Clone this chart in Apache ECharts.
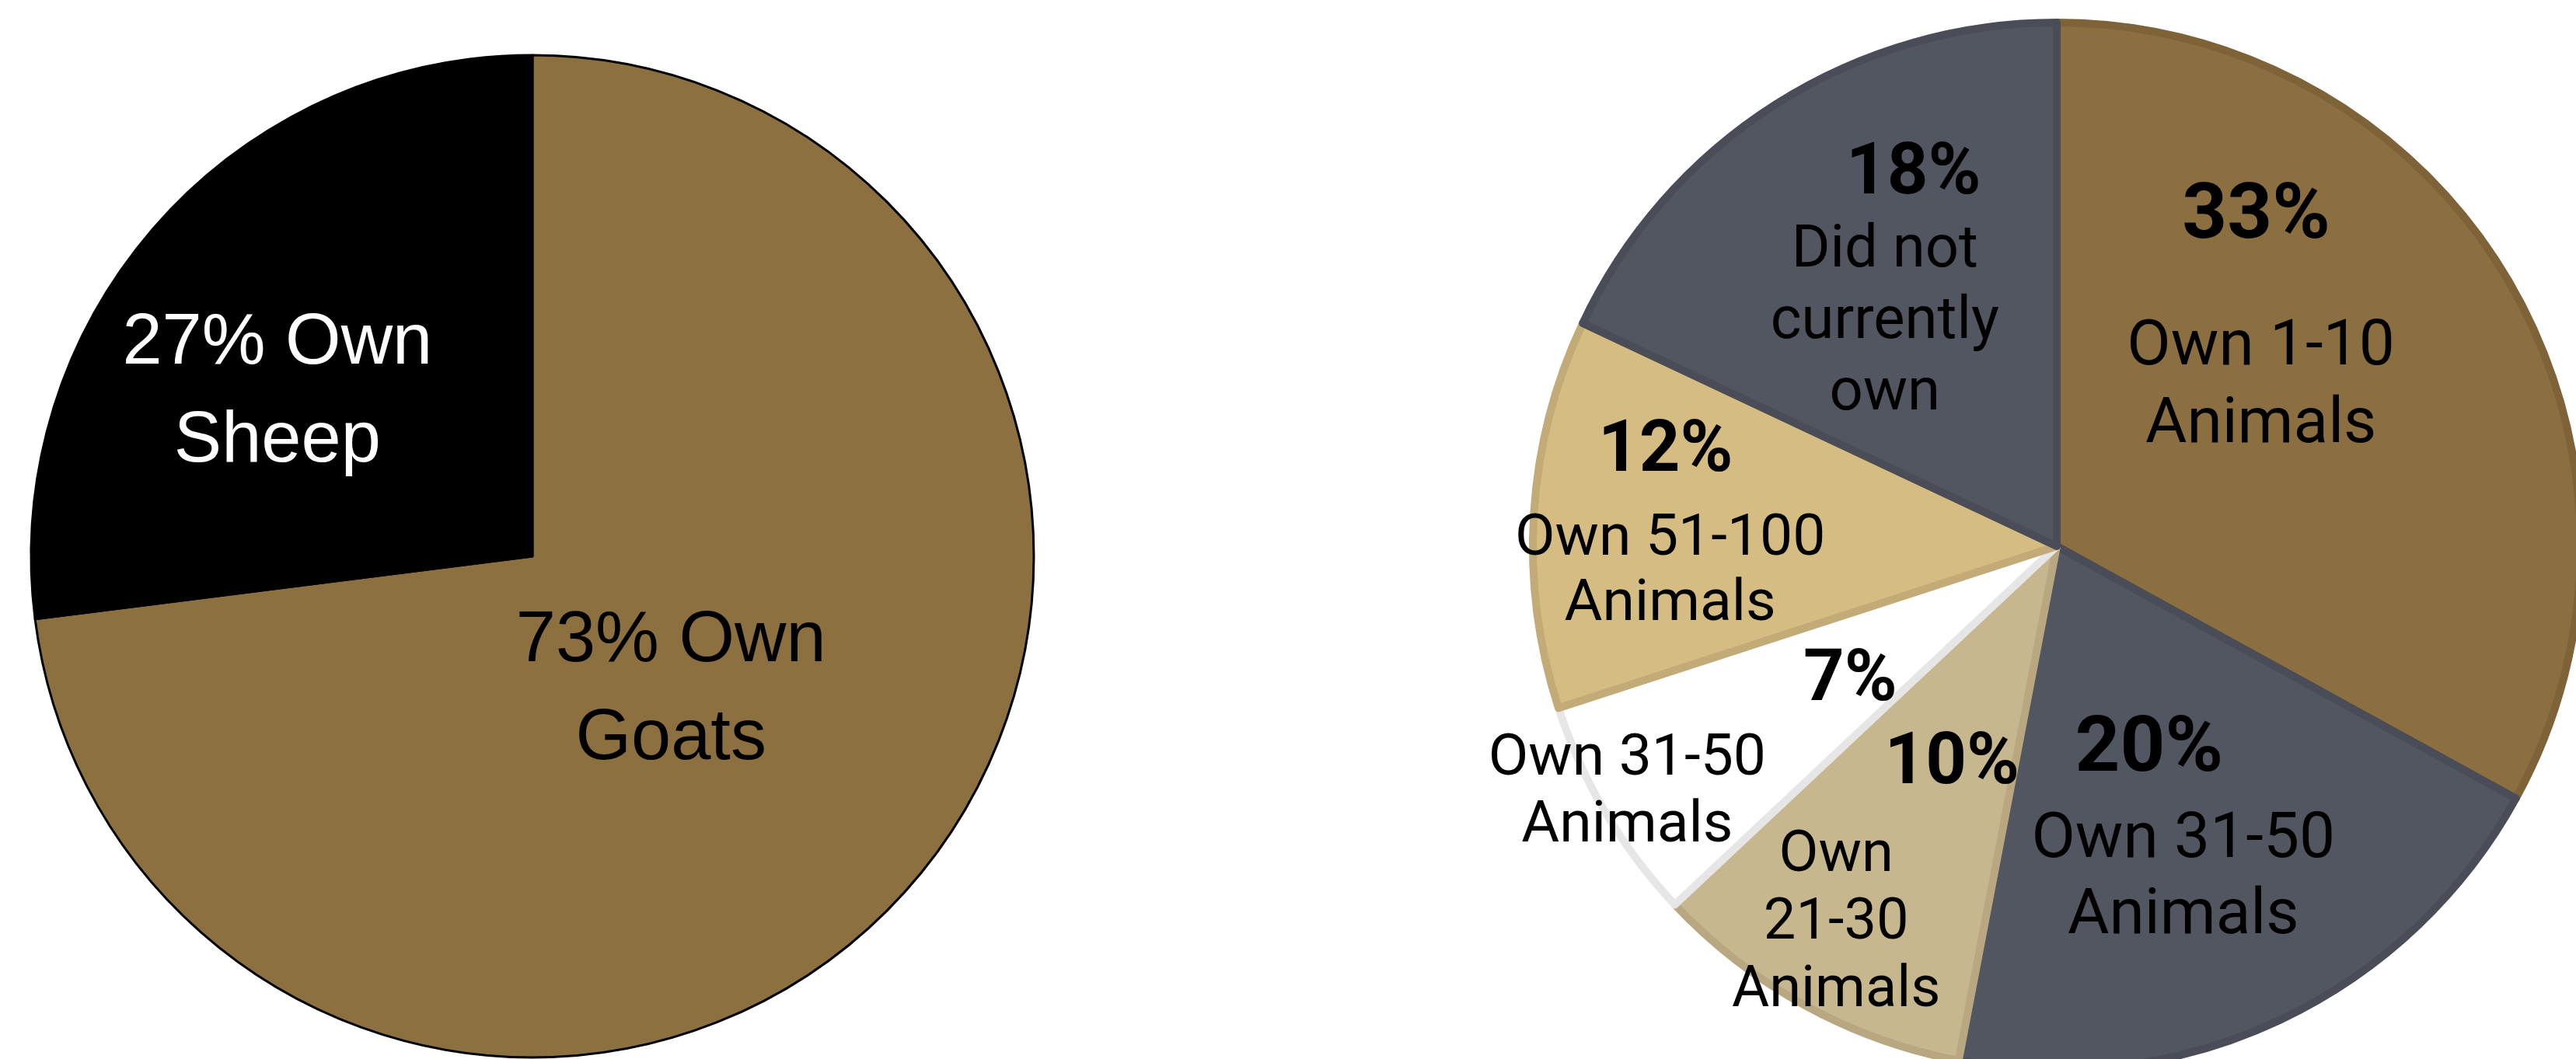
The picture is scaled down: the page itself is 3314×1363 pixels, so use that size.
<!DOCTYPE html>
<html>
<head>
<meta charset="utf-8">
<script src="https://cdn.jsdelivr.net/npm/echarts@6/dist/echarts.min.js"></script>
<style>
html,body{margin:0;padding:0;background:#ffffff;}
#chart{width:3314px;height:1363px;}
</style>
</head>
<body>
<div id="chart"></div>
<script>
// ---- data ----
const speciesNames = ['Goats', 'Sheep'];
const speciesValues = [73, 27];

const herdNames = ['Own 1-10\nAnimals', 'Own 31-50\nAnimals', 'Own\n21-30\nAnimals', 'Own 31-50\nAnimals', 'Own 51-100\nAnimals', 'Did not\ncurrently\nown'];
const herdValues = [33, 20, 10, 7, 12, 18];

// ---- styles ----
const speciesColors = ['#8C7040', '#000000'];
const speciesTextColors = ['#000000', '#ffffff'];
const speciesShift = [[-66, -43], [-84, 5]];

const herdColors = ['#8B6F40', '#525660', '#C6B78F', '#FFFFFF', '#D4BC83', '#525660'];
const herdBorders = ['#7E6338', '#4A4D57', '#B8A780', '#E6E6E6', '#C2AB76', '#4A4D57'];
const pctSizes = [101, 101, 92, 92, 92, 92];
const nameSizes = [82, 82, 74, 75, 75, 76];
const nameLineHeights = [100, 98, 87, 86, 84, 92];
const pctShift = [[-36, -249], [-26, -44], [29, -16], [27, 2], [-164, -99], [-2, -190]];
const nameShift = [[-30, -31], [18, 121], [-120, 189], [-260, 145], [-158, 56], [-39, 0]];

const chart = echarts.init(document.getElementById('chart'), null, {renderer: 'canvas'});

const option = {
  backgroundColor: '#ffffff',
  animation: false,
  series: [
    {
      type: 'pie',
      center: [685, 716],
      radius: 645,
      startAngle: 90,
      clockwise: true,
      silent: true,
      emphasis: {disabled: true},
      itemStyle: {borderColor: '#000000', borderWidth: 3},
      label: {
        show: true,
        position: 'inside',
        fontFamily: '"Liberation Sans", Arial, sans-serif',
        fontSize: 92,
        lineHeight: 126,
        formatter: p => p.value + '% Own\n' + p.name
      },
      labelLine: {show: false},
      labelLayout: p => ({dx: speciesShift[p.dataIndex][0], dy: speciesShift[p.dataIndex][1]}),
      data: speciesValues.map((v, i) => ({
        value: v,
        name: speciesNames[i],
        itemStyle: {color: speciesColors[i]},
        label: {color: speciesTextColors[i]}
      }))
    },
    {
      type: 'pie',
      center: [2646, 703],
      radius: 674,
      startAngle: 90,
      clockwise: true,
      silent: true,
      emphasis: {disabled: true},
      itemStyle: {borderWidth: 10},
      label: {
        show: true,
        position: 'inside',
        color: '#000000',
        fontFamily: 'Roboto, sans-serif',
        fontWeight: 'bold',
        formatter: p => p.value + '%'
      },
      labelLine: {show: false},
      labelLayout: p => ({dx: pctShift[p.dataIndex][0], dy: pctShift[p.dataIndex][1]}),
      data: herdValues.map((v, i) => ({
        value: v,
        name: herdNames[i],
        itemStyle: {color: herdColors[i], borderColor: herdBorders[i]},
        label: {fontSize: pctSizes[i]}
      }))
    },
    {
      type: 'pie',
      center: [2646, 703],
      radius: 674,
      startAngle: 90,
      clockwise: true,
      silent: true,
      emphasis: {disabled: true},
      itemStyle: {color: 'rgba(0,0,0,0)', borderWidth: 0},
      label: {
        show: true,
        position: 'inside',
        color: '#000000',
        fontFamily: 'Roboto, sans-serif',
        fontWeight: 'normal',
        formatter: p => p.name
      },
      labelLine: {show: false},
      labelLayout: p => ({dx: nameShift[p.dataIndex][0], dy: nameShift[p.dataIndex][1]}),
      data: herdValues.map((v, i) => ({
        value: v,
        name: herdNames[i],
        label: {fontSize: nameSizes[i], lineHeight: nameLineHeights[i]}
      }))
    }
  ]
};
chart.setOption(option);
</script>
</body>
</html>
